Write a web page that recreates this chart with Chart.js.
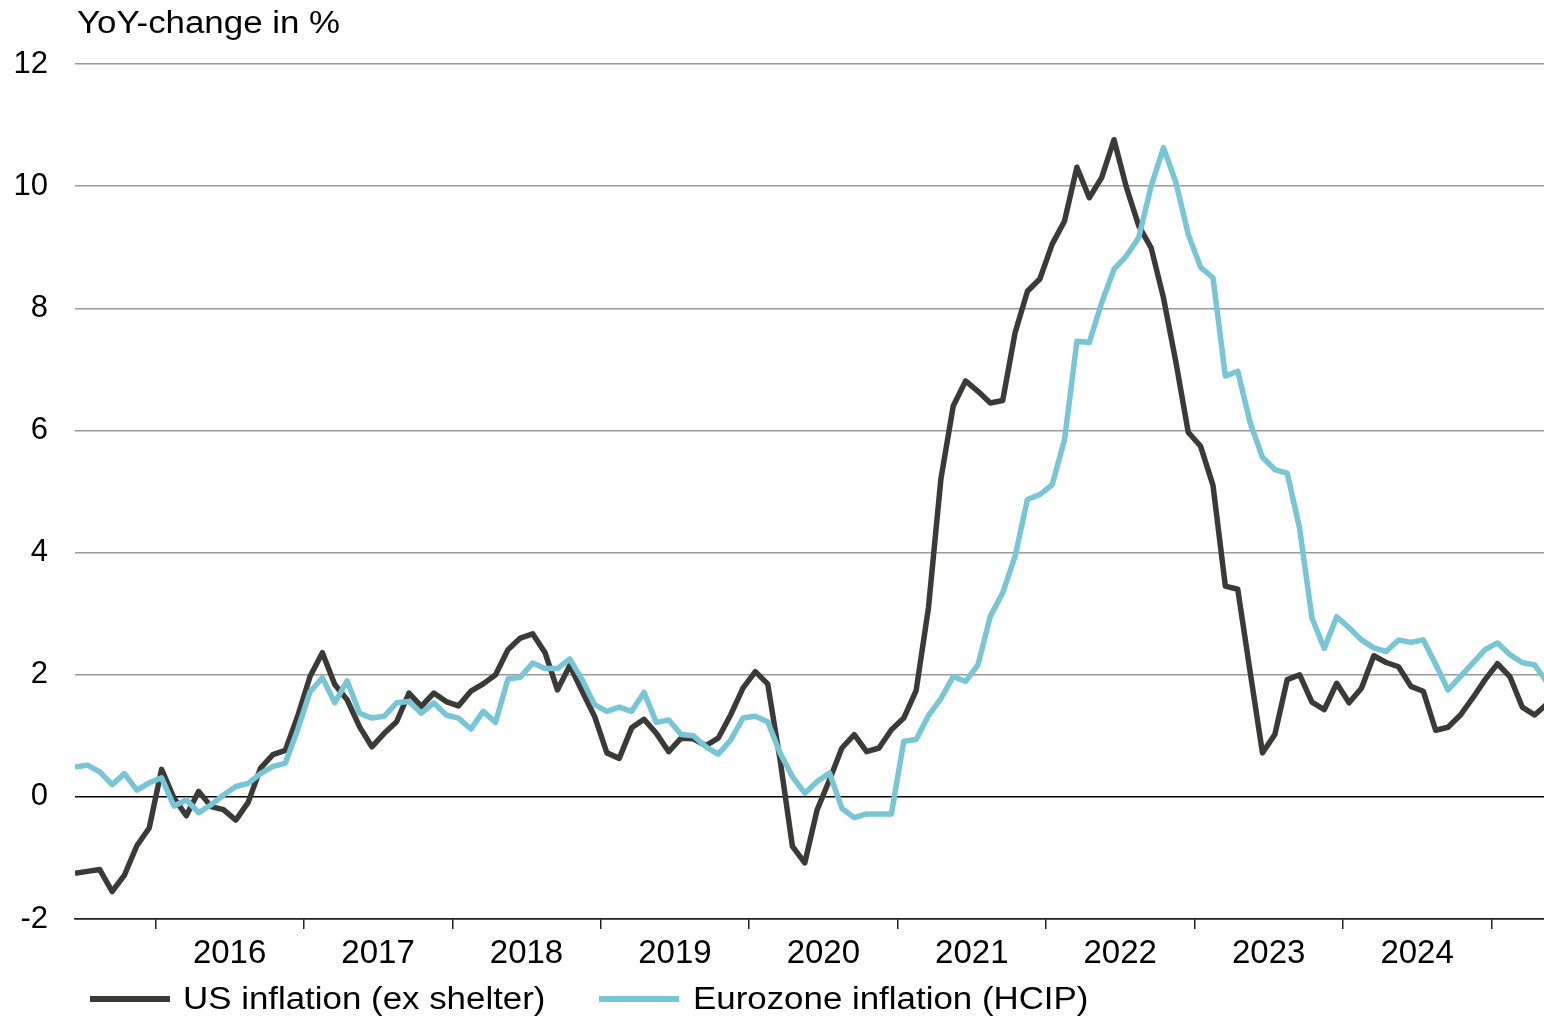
<!DOCTYPE html>
<html>
<head>
<meta charset="utf-8">
<script src="https://cdn.jsdelivr.net/npm/chart.js@4/dist/chart.umd.min.js"></script>
<style>
  html, body { margin: 0; padding: 0; background: #fff; }
  #wrap { position: relative; width: 1544px; height: 1016px; overflow: hidden; }
  #chart { position: absolute; left: 0; top: 0; }
  .txt { position: absolute; font-family: Arial, "Liberation Sans", sans-serif; color: #000; white-space: nowrap; line-height: 31px; font-size: 31px; transform-origin: 0 0; transform: scaleX(1.125); }
  .swatch { position: absolute; height: 6px; width: 80px; }
</style>
</head>
<body>
<div id="wrap">
  <canvas id="chart" width="1544" height="1016"></canvas>
  <div class="txt" id="ytitle" style="left:77px; top:7px;">YoY-change in %</div>
  <div class="swatch" style="left:90px; top:996px; background:#3a3b39;"></div>
  <div class="txt" style="left:183px; top:983px;">US inflation (ex shelter)</div>
  <div class="swatch" style="left:599px; top:996px; background:#78c5d5;"></div>
  <div class="txt" style="left:693px; top:983px;">Eurozone inflation (HCIP)</div>
</div>
<script>
'use strict';

// monthly values, first point = June 2015, last = May 2025
var usInflation = [
  -1.25, -1.22, -1.19, -1.55, -1.28, -0.80, -0.51, 0.45, -0.02, -0.31,
  0.09, -0.16, -0.21, -0.38, -0.09, 0.47, 0.69, 0.76, 1.32, 1.97,
  2.36, 1.84, 1.59, 1.15, 0.82, 1.04, 1.23, 1.70, 1.48, 1.70,
  1.56, 1.49, 1.73, 1.85, 2.00, 2.41, 2.60, 2.67, 2.36, 1.75,
  2.15, 1.73, 1.32, 0.72, 0.63, 1.13, 1.27, 1.04, 0.74, 0.96,
  0.95, 0.84, 0.96, 1.34, 1.78, 2.05, 1.85, 0.61, -0.81, -1.08,
  -0.21, 0.28, 0.80, 1.02, 0.74, 0.80, 1.10, 1.29, 1.74, 3.10,
  5.20, 6.40, 6.81, 6.64, 6.45, 6.49, 7.60, 8.28, 8.48, 9.05,
  9.43, 10.31, 9.81, 10.14, 10.76, 9.98, 9.35, 8.99, 8.17, 7.12,
  5.97, 5.74, 5.10, 3.45, 3.40, 2.05, 0.72, 1.02, 1.92, 2.00,
  1.55, 1.43, 1.86, 1.54, 1.78, 2.31, 2.20, 2.13, 1.81, 1.73,
  1.09, 1.14, 1.34, 1.62, 1.92, 2.18, 1.97, 1.47, 1.34, 1.52
];
var ezInflation = [
  0.49, 0.52, 0.41, 0.20, 0.38, 0.11, 0.23, 0.31, -0.15, -0.05,
  -0.26, -0.13, 0.03, 0.17, 0.22, 0.38, 0.50, 0.55, 1.10, 1.72,
  1.95, 1.54, 1.90, 1.37, 1.29, 1.32, 1.54, 1.56, 1.37, 1.54,
  1.34, 1.29, 1.11, 1.40, 1.22, 1.93, 1.96, 2.19, 2.10, 2.10,
  2.26, 1.92, 1.51, 1.40, 1.47, 1.40, 1.71, 1.22, 1.26, 1.02,
  1.00, 0.82, 0.70, 0.93, 1.29, 1.32, 1.23, 0.72, 0.33, 0.06,
  0.25, 0.39, -0.19, -0.34, -0.28, -0.28, -0.28, 0.91, 0.94, 1.33,
  1.61, 1.97, 1.89, 2.16, 2.96, 3.34, 3.94, 4.87, 4.95, 5.11,
  5.85, 7.46, 7.44, 8.09, 8.64, 8.86, 9.16, 10.00, 10.63, 10.06,
  9.21, 8.67, 8.50, 6.89, 6.97, 6.13, 5.56, 5.36, 5.30, 4.40,
  2.93, 2.43, 2.95, 2.77, 2.57, 2.44, 2.38, 2.57, 2.53, 2.57,
  2.17, 1.75, 1.97, 2.19, 2.41, 2.52, 2.33, 2.20, 2.16, 1.88
];
var yearLabels = ['2016', '2017', '2018', '2019', '2020', '2021', '2022', '2023', '2024'];
var firstJanIndex = 7; // Jan 2016 sits 7 months after the first point

function toPoints(values) {
  return values.map(function(v, i) {
    return { x: i, y: v };
  });
}

// year boundaries get a tick mark, year middles get the label
var tickLabels = {};
var tickValues = [];
for (var i = 0; i <= yearLabels.length; i++) {
  var boundary = firstJanIndex - 0.5 + 12 * i;
  tickValues.push(boundary);
  if (i < yearLabels.length) {
    tickValues.push(boundary + 6);
    tickLabels[boundary + 6] = yearLabels[i];
  }
}

var family = 'Arial, "Liberation Sans", sans-serif';

var chart = new Chart(document.getElementById('chart'), {
  type: 'line',
  data: {
    datasets: [
      {
        label: 'US inflation (ex shelter)',
        data: toPoints(usInflation),
        borderColor: '#3a3b39',
        backgroundColor: '#3a3b39',
        borderWidth: 5.5,
        order: 2
      },
      {
        label: 'Eurozone inflation (HCIP)',
        data: toPoints(ezInflation),
        borderColor: '#78c5d5',
        backgroundColor: '#78c5d5',
        borderWidth: 5.5,
        order: 1
      }
    ]
  },
  options: {
    responsive: false,
    animation: false,
    devicePixelRatio: 1,
    layout: { padding: { top: 64, right: 0, bottom: 0, left: 0 } },
    elements: {
      point: { radius: 0 },
      line: { tension: 0, borderJoinStyle: 'round', borderCapStyle: 'butt' }
    },
    plugins: {
      legend: { display: false },
      tooltip: { enabled: false }
    },
    scales: {
      x: {
        type: 'linear',
        min: 0,
        max: 118.76,
        afterBuildTicks: function(scale) {
          scale.ticks = tickValues.map(function(v) { return { value: v }; });
        },
        afterFit: function(scale) { scale.height = 97; },
        border: { display: true, color: '#222', width: 1.5 },
        grid: {
          drawOnChartArea: false,
          drawTicks: true,
          tickLength: 10,
          lineWidth: 1.5,
          tickColor: function(ctx) {
            return tickLabels[ctx.tick.value] ? 'rgba(0,0,0,0)' : '#222';
          }
        },
        ticks: {
          autoSkip: false,
          maxRotation: 0,
          padding: 5,
          color: '#000',
          font: { family: family, size: 33 },
          callback: function(v) { return tickLabels[v] || ''; }
        }
      },
      y: {
        min: -2,
        max: 12,
        afterFit: function(scale) { scale.width = 75; },
        border: { display: false },
        grid: {
          drawTicks: false,
          lineWidth: 1.5,
          color: function(ctx) {
            if (ctx.tick.value === 0) return '#000';
            if (ctx.tick.value === -2) return '#222';
            return '#9a9a9a';
          }
        },
        ticks: {
          stepSize: 2,
          padding: 27,
          color: '#000',
          font: { family: family, size: 31 }
        }
      }
    }
  }
});
</script>
</body>
</html>
